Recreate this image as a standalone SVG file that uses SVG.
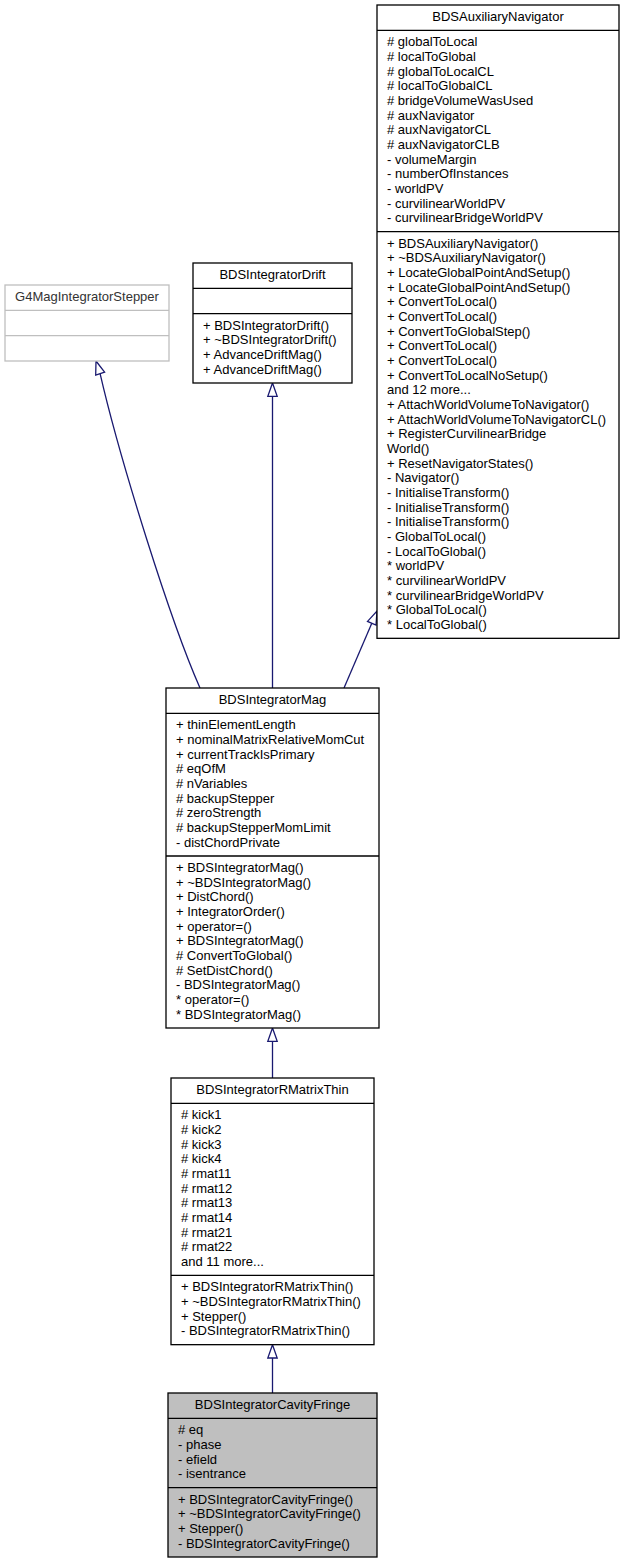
<svg xmlns="http://www.w3.org/2000/svg" width="625" height="1564" viewBox="0 0 625 1564">
<style>
  text { font-family: "Liberation Sans", Arial, Helvetica, sans-serif; font-size: 13px; fill: #000; }
  .t { text-anchor: middle; }
  .box { fill: #fff; stroke: #000; stroke-width: 1.3; }
  .ext { fill: #fff; stroke: #bfbfbf; stroke-width: 1.3; }
  .cur { fill: #bfbfbf; stroke: #000; stroke-width: 1.3; }
  .sep { stroke: #000; stroke-width: 1.3; }
  .sepx { stroke: #bfbfbf; stroke-width: 1.3; }
  .edge { fill: none; stroke: #191970; stroke-width: 1.3; }
  .head { fill: #fff; stroke: #191970; stroke-width: 1.3; }
  .gt { fill: #333; }
</style>
<rect width="625" height="1564" fill="#fff"/>

<g id="connectors">
  <!-- Mag -> G4MagIntegratorStepper -->
  <path class="edge" d="M200,688 C170,620 120,460 100.1,373.7"/>
  <polygon class="head" points="96,361 104.6,372.2 95.7,375.1"/>
  <!-- Mag -> Drift -->
  <line class="edge" x1="272.5" y1="688" x2="272.5" y2="396.3"/>
  <polygon class="head" points="272.5,383 277.2,396.3 267.8,396.3"/>
  <!-- Mag -> AuxNav -->
  <line class="edge" x1="344" y1="688" x2="371.8" y2="623.3"/>
  <polygon class="head" points="377,611 376,625.1 367.5,621.4"/>
  <!-- RMatrixThin -> Mag -->
  <line class="edge" x1="272.5" y1="1078" x2="272.5" y2="1041.3"/>
  <polygon class="head" points="272.5,1028 277.2,1041.3 267.8,1041.3"/>
  <!-- CavityFringe -> RMatrixThin -->
  <line class="edge" x1="272.5" y1="1393" x2="272.5" y2="1358"/>
  <polygon class="head" points="272.5,1344.7 277.2,1358 267.8,1358"/>
</g>

<g id="G4MagIntegratorStepper">
  <rect class="ext" x="5" y="285" width="164" height="76"/>
  <line class="sepx" x1="5" y1="310.33" x2="169" y2="310.33"/>
  <line class="sepx" x1="5" y1="335.67" x2="169" y2="335.67"/>
  <text class="t gt" x="87" y="301">G4MagIntegratorStepper</text>
</g>

<g id="BDSIntegratorDrift">
  <rect class="box" x="193" y="263" width="159" height="120"/>
  <line class="sep" x1="193" y1="288.33" x2="352" y2="288.33"/>
  <line class="sep" x1="193" y1="313.67" x2="352" y2="313.67"/>
  <text class="t" x="272.5" y="279">BDSIntegratorDrift</text>
  <text x="203" y="329.67">+ BDSIntegratorDrift()</text>
  <text x="203" y="344.33">+ ~BDSIntegratorDrift()</text>
  <text x="203" y="359">+ AdvanceDriftMag()</text>
  <text x="203" y="373.67">+ AdvanceDriftMag()</text>
</g>

<g id="BDSAuxiliaryNavigator">
  <rect class="box" x="377" y="5" width="242" height="633.33"/>
  <line class="sep" x1="377" y1="30.33" x2="619" y2="30.33"/>
  <line class="sep" x1="377" y1="231.67" x2="619" y2="231.67"/>
  <text class="t" x="498" y="21">BDSAuxiliaryNavigator</text>
  <text x="387" y="46.33"># globalToLocal</text>
  <text x="387" y="61"># localToGlobal</text>
  <text x="387" y="75.67"># globalToLocalCL</text>
  <text x="387" y="90.33"># localToGlobalCL</text>
  <text x="387" y="105"># bridgeVolumeWasUsed</text>
  <text x="387" y="119.67"># auxNavigator</text>
  <text x="387" y="134.33"># auxNavigatorCL</text>
  <text x="387" y="149"># auxNavigatorCLB</text>
  <text x="387" y="163.67">- volumeMargin</text>
  <text x="387" y="178.33">- numberOfInstances</text>
  <text x="387" y="193">- worldPV</text>
  <text x="387" y="207.67">- curvilinearWorldPV</text>
  <text x="387" y="222.33">- curvilinearBridgeWorldPV</text>
  <text x="387" y="247.67">+ BDSAuxiliaryNavigator()</text>
  <text x="387" y="262.33">+ ~BDSAuxiliaryNavigator()</text>
  <text x="387" y="277">+ LocateGlobalPointAndSetup()</text>
  <text x="387" y="291.67">+ LocateGlobalPointAndSetup()</text>
  <text x="387" y="306.33">+ ConvertToLocal()</text>
  <text x="387" y="321">+ ConvertToLocal()</text>
  <text x="387" y="335.67">+ ConvertToGlobalStep()</text>
  <text x="387" y="350.33">+ ConvertToLocal()</text>
  <text x="387" y="365">+ ConvertToLocal()</text>
  <text x="387" y="379.67">+ ConvertToLocalNoSetup()</text>
  <text x="387" y="394.33">and 12 more...</text>
  <text x="387" y="409">+ AttachWorldVolumeToNavigator()</text>
  <text x="387" y="423.67">+ AttachWorldVolumeToNavigatorCL()</text>
  <text x="387" y="438.33">+ RegisterCurvilinearBridge</text>
  <text x="387" y="453">World()</text>
  <text x="387" y="467.67">+ ResetNavigatorStates()</text>
  <text x="387" y="482.33">- Navigator()</text>
  <text x="387" y="497">- InitialiseTransform()</text>
  <text x="387" y="511.67">- InitialiseTransform()</text>
  <text x="387" y="526.33">- InitialiseTransform()</text>
  <text x="387" y="541">- GlobalToLocal()</text>
  <text x="387" y="555.67">- LocalToGlobal()</text>
  <text x="387" y="570.33">* worldPV</text>
  <text x="387" y="585">* curvilinearWorldPV</text>
  <text x="387" y="599.67">* curvilinearBridgeWorldPV</text>
  <text x="387" y="614.33">* GlobalToLocal()</text>
  <text x="387" y="629">* LocalToGlobal()</text>
</g>

<g id="BDSIntegratorMag">
  <rect class="box" x="166" y="688" width="213" height="340"/>
  <line class="sep" x1="166" y1="713.33" x2="379" y2="713.33"/>
  <line class="sep" x1="166" y1="856" x2="379" y2="856"/>
  <text class="t" x="272.5" y="704">BDSIntegratorMag</text>
  <text x="176" y="729.33">+ thinElementLength</text>
  <text x="176" y="744">+ nominalMatrixRelativeMomCut</text>
  <text x="176" y="758.67">+ currentTrackIsPrimary</text>
  <text x="176" y="773.33"># eqOfM</text>
  <text x="176" y="788"># nVariables</text>
  <text x="176" y="802.67"># backupStepper</text>
  <text x="176" y="817.33"># zeroStrength</text>
  <text x="176" y="832"># backupStepperMomLimit</text>
  <text x="176" y="846.67">- distChordPrivate</text>
  <text x="176" y="872">+ BDSIntegratorMag()</text>
  <text x="176" y="886.67">+ ~BDSIntegratorMag()</text>
  <text x="176" y="901.33">+ DistChord()</text>
  <text x="176" y="916">+ IntegratorOrder()</text>
  <text x="176" y="930.67">+ operator=()</text>
  <text x="176" y="945.33">+ BDSIntegratorMag()</text>
  <text x="176" y="960"># ConvertToGlobal()</text>
  <text x="176" y="974.67"># SetDistChord()</text>
  <text x="176" y="989.33">- BDSIntegratorMag()</text>
  <text x="176" y="1004">* operator=()</text>
  <text x="176" y="1018.67">* BDSIntegratorMag()</text>
</g>

<g id="BDSIntegratorRMatrixThin">
  <rect class="box" x="171" y="1078" width="203" height="266.67"/>
  <line class="sep" x1="171" y1="1103.33" x2="374" y2="1103.33"/>
  <line class="sep" x1="171" y1="1275.33" x2="374" y2="1275.33"/>
  <text class="t" x="272.5" y="1094">BDSIntegratorRMatrixThin</text>
  <text x="181" y="1119.33"># kick1</text>
  <text x="181" y="1134"># kick2</text>
  <text x="181" y="1148.67"># kick3</text>
  <text x="181" y="1163.33"># kick4</text>
  <text x="181" y="1178"># rmat11</text>
  <text x="181" y="1192.67"># rmat12</text>
  <text x="181" y="1207.33"># rmat13</text>
  <text x="181" y="1222"># rmat14</text>
  <text x="181" y="1236.67"># rmat21</text>
  <text x="181" y="1251.33"># rmat22</text>
  <text x="181" y="1266">and 11 more...</text>
  <text x="181" y="1291.33">+ BDSIntegratorRMatrixThin()</text>
  <text x="181" y="1306">+ ~BDSIntegratorRMatrixThin()</text>
  <text x="181" y="1320.67">+ Stepper()</text>
  <text x="181" y="1335.33">- BDSIntegratorRMatrixThin()</text>
</g>

<g id="BDSIntegratorCavityFringe">
  <rect class="cur" x="168" y="1393" width="209" height="164"/>
  <line class="sep" x1="168" y1="1418.33" x2="377" y2="1418.33"/>
  <line class="sep" x1="168" y1="1487.67" x2="377" y2="1487.67"/>
  <text class="t" x="272.5" y="1409">BDSIntegratorCavityFringe</text>
  <text x="178" y="1434.33"># eq</text>
  <text x="178" y="1449">- phase</text>
  <text x="178" y="1463.67">- efield</text>
  <text x="178" y="1478.33">- isentrance</text>
  <text x="178" y="1503.67">+ BDSIntegratorCavityFringe()</text>
  <text x="178" y="1518.33">+ ~BDSIntegratorCavityFringe()</text>
  <text x="178" y="1533">+ Stepper()</text>
  <text x="178" y="1547.67">- BDSIntegratorCavityFringe()</text>
</g>
</svg>
